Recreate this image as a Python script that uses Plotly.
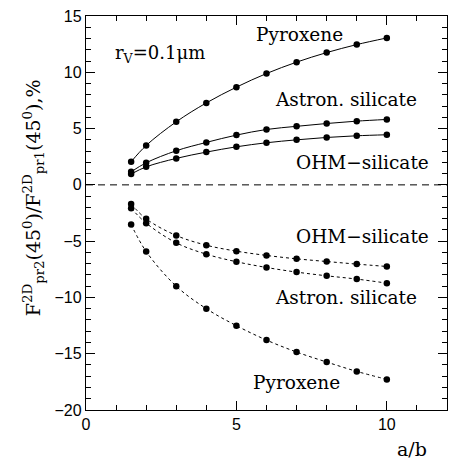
import plotly.graph_objects as go

ab = [1.5, 2, 3, 4, 5, 6, 7, 8, 9, 10]

pyroxene_pos = [2.05, 3.5, 5.6, 7.28, 8.68, 9.89, 10.9, 11.75, 12.46, 13.05]
astron_pos = [1.16, 1.96, 3.03, 3.77, 4.42, 4.92, 5.2, 5.45, 5.66, 5.81]
ohm_pos = [0.96, 1.6, 2.35, 2.91, 3.38, 3.74, 4.0, 4.21, 4.36, 4.45]

ohm_neg = [-1.69, -3.02, -4.5, -5.36, -5.89, -6.27, -6.57, -6.81, -7.04, -7.25]
astron_neg = [-2.07, -3.4, -5.15, -6.16, -6.83, -7.34, -7.75, -8.08, -8.37, -8.73]
pyroxene_neg = [-3.52, -5.92, -9.0, -11.0, -12.51, -13.79, -14.85, -15.74, -16.57, -17.28]

labels = [
    ("Pyroxene", 7.1, 13.4),
    ("Astron. silicate", 8.65, 7.55),
    ("OHM\u2212silicate", 9.2, 2.0),
    ("OHM\u2212silicate", 9.2, -4.6),
    ("Astron. silicate", 8.65, -10.0),
    ("Pyroxene", 7.0, -17.6),
]

fig = go.Figure()
for ys in [pyroxene_pos, astron_pos, ohm_pos]:
    fig.add_trace(go.Scatter(x=ab, y=ys, mode="lines+markers",
                             line=dict(color="black", width=1, shape="spline"),
                             marker=dict(color="black", size=6.5), showlegend=False))
for ys in [ohm_neg, astron_neg, pyroxene_neg]:
    fig.add_trace(go.Scatter(x=ab, y=ys, mode="lines+markers",
                             line=dict(color="black", width=1, shape="spline", dash="3px,3px"),
                             marker=dict(color="black", size=6.5), showlegend=False))

fig.add_shape(type="line", xref="paper", x0=0, x1=1, yref="y", y0=0, y1=0,
              line=dict(color="black", width=1, dash="7px,5px"))

serif = "DejaVu Serif"
for txt, x, y in labels:
    fig.add_annotation(x=x, y=y, text=txt, showarrow=False,
                       font=dict(family=serif, size=18.5, color="black"))
fig.add_annotation(x=2.47, y=11.6, text="r<sub>V</sub>=0.1\u03bcm", showarrow=False,
                   font=dict(family=serif, size=18, color="black"))

fig.add_annotation(xref="paper", yref="paper", x=0.95, y=-0.065, xanchor="right", yanchor="top",
                   text="a/b", showarrow=False,
                   font=dict(family=serif, size=19, color="black"))

fig.add_annotation(xref="paper", yref="paper", x=-0.147, y=0.54, textangle=-90,
                   xanchor="center", yanchor="middle",
                   text="F<sup>2D</sup><sub>pr2</sub>(45<sup>0</sup>)/F<sup>2D</sup><sub>pr1</sub>(45<sup>0</sup>),%",
                   showarrow=False, font=dict(family=serif, size=19, color="black"))

axis_common = dict(showline=True, linecolor="black", linewidth=1.3, mirror="allticks",
                   ticks="inside", ticklen=9, tickcolor="black", tickwidth=1,
                   showgrid=False, zeroline=False,
                   tickfont=dict(family="Liberation Sans", size=16, color="black"))
fig.update_xaxes(range=[0, 12], dtick=5, tick0=0,
                 minor=dict(dtick=1, ticks="inside", ticklen=5, tickcolor="black", showgrid=False),
                 **axis_common)
fig.update_yaxes(range=[-20, 15], dtick=5, tick0=0,
                 minor=dict(dtick=1, ticks="inside", ticklen=5, tickcolor="black", showgrid=False),
                 **axis_common)

fig.update_layout(width=449, height=464, margin=dict(l=86, r=2, t=16, b=54),
                  plot_bgcolor="white", paper_bgcolor="white")
fig.write_html("out.html", config={"displayModeBar": False},
               post_script="document.body.style.margin='0';document.body.style.overflow='hidden';")
